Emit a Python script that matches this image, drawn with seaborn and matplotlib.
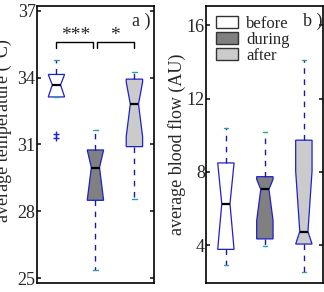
'''
notched boxplot: temperature / blood flow before, during, after
'''
import matplotlib
matplotlib.use('Agg')
import matplotlib.pyplot as plt
from matplotlib.patches import Patch
import seaborn as sns

groups = ['before', 'during', 'after']
fills = ['white', '#808080', '#cbcbcb']

# a) average temperature (°C)
temp_whishi = [34.77, 31.65, 34.27]
temp_q3 = [34.14, 30.75, 33.93]
temp_med = [33.67, 29.96, 32.81]
temp_q1 = [33.13, 28.49, 30.90]
temp_whislo = [33.13, 25.36, 28.54]
temp_cihi = [34.14, 30.75, 33.80]
temp_cilo = [33.13, 28.49, 31.35]
temp_fliers = [[31.47, 31.27], [], []]

# b) average blood flow (AU)
flow_whishi = [10.42, 10.18, 14.12]
flow_q3 = [8.49, 7.74, 9.73]
flow_med = [6.26, 7.05, 4.75]
flow_q1 = [3.78, 4.35, 4.07]
flow_whislo = [2.91, 3.97, 2.56]
flow_cihi = [8.49, 7.60, 8.05]
flow_cilo = [3.78, 5.35, 4.07]
flow_fliers = [[], [], []]

sns.set_theme(style='ticks')
plt.rcParams['font.family'] = ['Liberation Serif', 'DejaVu Serif']


def make_stats(whislo, q1, med, q3, whishi, cilo, cihi, fliers):
    stats = []
    for i in range(len(groups)):
        stats.append(dict(label=groups[i], whislo=whislo[i], q1=q1[i], med=med[i],
                          q3=q3[i], whishi=whishi[i], cilo=cilo[i], cihi=cihi[i],
                          fliers=fliers[i]))
    return stats


def draw(ax, stats):
    bp = ax.bxp(stats, positions=[1, 2, 3], widths=0.42, shownotches=True,
                patch_artist=True,
                boxprops=dict(edgecolor='#1f1fd0', linewidth=0.9),
                whiskerprops=dict(color='#1a1aa0', linestyle=(0, (4, 4)), linewidth=1.0),
                capprops=dict(color='#2aa0a0', linewidth=1.0),
                medianprops=dict(color='black', linewidth=1.6),
                flierprops=dict(marker='+', markeredgecolor='#1f1fd0', markersize=5,
                                linestyle='none'),
                capwidths=0.12)
    for patch, c in zip(bp['boxes'], fills):
        patch.set_facecolor(c)
    ax.set_xlim(0.5, 3.5)
    ax.set_xticks([])
    ax.tick_params(axis='y', direction='in', right=True, labelsize=13, length=3, pad=1)
    for s in ax.spines.values():
        s.set_visible(True)
        s.set_color('black')
        s.set_linewidth(1.2)


fig = plt.figure(figsize=(3.24, 2.92), dpi=100)
ax1 = fig.add_axes([0.114, 0.031, 0.361, 0.949])
ax2 = fig.add_axes([0.637, 0.031, 0.361, 0.949])

draw(ax1, make_stats(temp_whislo, temp_q1, temp_med, temp_q3, temp_whishi,
                     temp_cilo, temp_cihi, temp_fliers))
ax1.set_ylim(24.78, 37.22)
ax1.set_yticks([25, 28, 31, 34, 37])
ax1.set_ylabel('average temperature (°C)', fontsize=13)
ax1.yaxis.set_label_coords(-0.21, 0.55)
ax1.text(0.97, 0.975, 'a )', transform=ax1.transAxes, ha='right', va='top', fontsize=13)

# significance brackets
ax1.plot([1, 1, 1.94, 1.94], [35.32, 35.59, 35.59, 35.32], color='black', lw=1)
ax1.plot([2.04, 2.04, 3, 3], [35.32, 35.59, 35.59, 35.32], color='black', lw=1)
ax1.text(1.5, 35.5, '***', ha='center', va='bottom', fontsize=14)
ax1.text(2.5, 35.5, '*', ha='center', va='bottom', fontsize=14)

draw(ax2, make_stats(flow_whislo, flow_q1, flow_med, flow_q3, flow_whishi,
                     flow_cilo, flow_cihi, flow_fliers))
ax2.set_ylim(1.95, 17.05)
ax2.set_yticks([4, 8, 12, 16])
ax2.set_ylabel('average blood flow (AU)', fontsize=13)
ax2.yaxis.set_label_coords(-0.175, 0.5)
ax2.text(0.99, 0.975, 'b )', transform=ax2.transAxes, ha='right', va='top', fontsize=13)

handles = [Patch(facecolor=c, edgecolor='#333333', linewidth=1) for c in fills]
ax2.legend(handles, groups, loc='upper left', frameon=False, fontsize=12,
           handlelength=1.3, handleheight=0.7, handletextpad=0.5,
           labelspacing=0.0, borderaxespad=0.4, borderpad=0.2)

fig.savefig('out.png', dpi=100)
